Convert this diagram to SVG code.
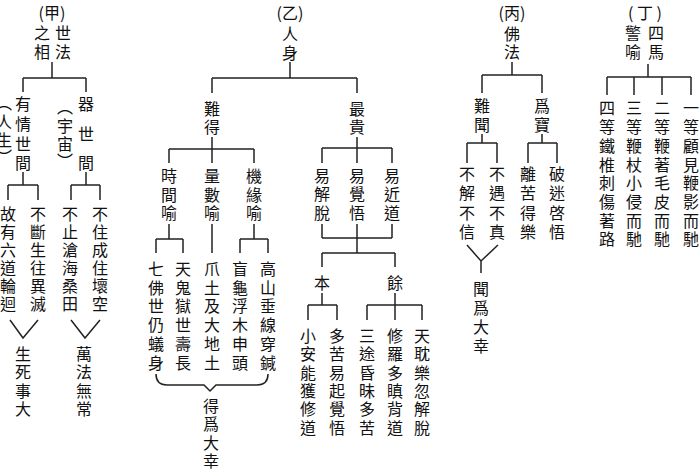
<svg xmlns="http://www.w3.org/2000/svg" width="700" height="470" viewBox="0 0 700 470">
<style>
text{font-family:"Noto Sans CJK TC","Noto Sans CJK SC",sans-serif;font-size:16px;fill:#111;text-anchor:middle;dominant-baseline:central}
.v{writing-mode:vertical-rl;text-anchor:start}
.c{fill:none;stroke:#222;stroke-width:1.5}
</style>
<rect width="700" height="470" fill="#fff"/>
<g id="connectors" class="c">
<path d="M52 62V78M23 78H86M23 78V92M86 78V92"/>
<path d="M23 172V185M8 185H38M8 185V200M38 185V200"/>
<path d="M86 172V185M71 185H100M71 185V200M100 185V200"/>
<path d="M10 320L23 338L38 320M71 320L85 338L100 320"/>
<path d="M290 62V78M212 78H357M212 78V93M357 78V93"/>
<path d="M212 137V149M169 149H254M169 149V163M212 149V163M254 149V163"/>
<path d="M169 224V239M156 239H183M156 239V253M183 239V253M212 224V253M254 224V239M240 239H268M240 239V253M268 239V253"/>
<path d="M156 374Q156 385 167 385H204L210 391L216 385H257Q268 385 268 374"/>
<path d="M357 137V148M322 148H392M322 148V163M357 148V163M392 148V163"/>
<path d="M322 224V238M392 224V238M322 238H392M357 224V253M322 253H395M322 253V267M395 253V267"/>
<path d="M322 293V305M308 305H337M308 305V320M337 305V320M395 293V305M367 305H422M367 305V320M395 305V320M422 305V320"/>
<path d="M512 62V75M482 75H542M482 75V93M542 75V93"/>
<path d="M482 134V143M467 143H497M467 143V163M497 143V163M542 134V143M528 143H557M528 143V163M557 143V163"/>
<path d="M467 245L481 261L498 245M481 261V273"/>
<path d="M648 64V77M607 77H691M607 77V95M634 77V95M662 77V95M691 77V95"/>
</g>
<g id="jia">
<text x="52" y="12">(甲)</text>
<text><tspan x="63" y="32">世</tspan><tspan x="63" y="51">法</tspan><tspan x="42" y="32">之</tspan><tspan x="42" y="51">相</tspan></text>
</g>
<g id="youqing"><text><tspan x="23" y="103">有</tspan><tspan x="23" y="123">情</tspan><tspan x="23" y="143">世</tspan><tspan x="23" y="162">間</tspan><tspan x="4" y="121">人</tspan><tspan x="4" y="139">生</tspan></text><text class="v" x="4" y="95">（</text><text class="v" x="4" y="149">）</text></g>
<g id="qishi"><text><tspan x="86" y="103">器</tspan><tspan x="86" y="133">世</tspan><tspan x="86" y="162">間</tspan><tspan x="65" y="125">宇</tspan><tspan x="65" y="143">宙</tspan></text><text class="v" x="65" y="99">（</text><text class="v" x="65" y="153">）</text></g>
<g id="guyou"><text><tspan x="8" y="213">故</tspan><tspan x="8" y="231">有</tspan><tspan x="8" y="249">六</tspan><tspan x="8" y="267">道</tspan><tspan x="8" y="285">輪</tspan><tspan x="8" y="303">迴</tspan></text></g>
<g id="buduan"><text><tspan x="38" y="213">不</tspan><tspan x="38" y="231">斷</tspan><tspan x="38" y="249">生</tspan><tspan x="38" y="267">往</tspan><tspan x="38" y="285">異</tspan><tspan x="38" y="303">滅</tspan></text></g>
<g id="buzhi"><text><tspan x="70" y="213">不</tspan><tspan x="70" y="231">止</tspan><tspan x="70" y="249">滄</tspan><tspan x="70" y="267">海</tspan><tspan x="70" y="285">桑</tspan><tspan x="70" y="303">田</tspan></text></g>
<g id="buzhu"><text><tspan x="100" y="213">不</tspan><tspan x="100" y="231">住</tspan><tspan x="100" y="249">成</tspan><tspan x="100" y="267">住</tspan><tspan x="100" y="285">壞</tspan><tspan x="100" y="303">空</tspan></text></g>
<g id="shengsi"><text><tspan x="23" y="353">生</tspan><tspan x="23" y="371">死</tspan><tspan x="23" y="390">事</tspan><tspan x="23" y="408">大</tspan></text></g>
<g id="wanfa"><text><tspan x="84" y="353">萬</tspan><tspan x="84" y="371">法</tspan><tspan x="84" y="390">無</tspan><tspan x="84" y="408">常</tspan></text></g>
<g id="yi">
<text x="290" y="12">(乙)</text>
<text><tspan x="290" y="33">人</tspan><tspan x="290" y="52">身</tspan></text>
</g>
<g id="nande"><text><tspan x="212" y="108">難</tspan><tspan x="212" y="126">得</tspan></text></g>
<g id="shijian"><text><tspan x="169" y="175">時</tspan><tspan x="169" y="194">間</tspan><tspan x="169" y="212">喻</tspan></text></g>
<g id="liangshu"><text><tspan x="212" y="175">量</tspan><tspan x="212" y="194">數</tspan><tspan x="212" y="212">喻</tspan></text></g>
<g id="jiyuan"><text><tspan x="254" y="175">機</tspan><tspan x="254" y="194">緣</tspan><tspan x="254" y="212">喻</tspan></text></g>
<g id="qifo"><text><tspan x="156" y="268">七</tspan><tspan x="156" y="287">佛</tspan><tspan x="156" y="305">世</tspan><tspan x="156" y="324">仍</tspan><tspan x="156" y="343">蟻</tspan><tspan x="156" y="362">身</tspan></text></g>
<g id="tiangui"><text><tspan x="183" y="268">天</tspan><tspan x="183" y="287">鬼</tspan><tspan x="183" y="305">獄</tspan><tspan x="183" y="324">世</tspan><tspan x="183" y="343">壽</tspan><tspan x="183" y="362">長</tspan></text></g>
<g id="zhuatu"><text><tspan x="212" y="268">爪</tspan><tspan x="212" y="287">土</tspan><tspan x="212" y="305">及</tspan><tspan x="212" y="324">大</tspan><tspan x="212" y="343">地</tspan><tspan x="212" y="362">土</tspan></text></g>
<g id="manggui"><text><tspan x="240" y="268">盲</tspan><tspan x="240" y="287">龜</tspan><tspan x="240" y="305">浮</tspan><tspan x="240" y="324">木</tspan><tspan x="240" y="343">申</tspan><tspan x="240" y="362">頭</tspan></text></g>
<g id="gaoshan"><text><tspan x="268" y="268">高</tspan><tspan x="268" y="287">山</tspan><tspan x="268" y="305">垂</tspan><tspan x="268" y="324">線</tspan><tspan x="268" y="343">穿</tspan><tspan x="268" y="362">鍼</tspan></text></g>
<g id="dewei"><text><tspan x="211" y="405">得</tspan><tspan x="211" y="423">爲</tspan><tspan x="211" y="442">大</tspan><tspan x="211" y="460">幸</tspan></text></g>
<g id="zuigui"><text><tspan x="357" y="108">最</tspan><tspan x="357" y="126">貴</tspan></text></g>
<g id="yijie"><text><tspan x="322" y="175">易</tspan><tspan x="322" y="193">解</tspan><tspan x="322" y="212">脫</tspan></text></g>
<g id="yijue"><text><tspan x="357" y="175">易</tspan><tspan x="357" y="193">覺</tspan><tspan x="357" y="212">悟</tspan></text></g>
<g id="yijin"><text><tspan x="392" y="175">易</tspan><tspan x="392" y="193">近</tspan><tspan x="392" y="212">道</tspan></text></g>
<g id="ben"><text x="322" y="282">本</text></g>
<g id="yu"><text x="395" y="282">餘</text></g>
<g id="xiaoan"><text><tspan x="308" y="335">小</tspan><tspan x="308" y="353">安</tspan><tspan x="308" y="372">能</tspan><tspan x="308" y="390">獲</tspan><tspan x="308" y="408">修</tspan><tspan x="308" y="427">道</tspan></text></g>
<g id="duoku"><text><tspan x="337" y="335">多</tspan><tspan x="337" y="353">苦</tspan><tspan x="337" y="372">易</tspan><tspan x="337" y="390">起</tspan><tspan x="337" y="408">覺</tspan><tspan x="337" y="427">悟</tspan></text></g>
<g id="santu"><text><tspan x="367" y="335">三</tspan><tspan x="367" y="353">途</tspan><tspan x="367" y="372">昏</tspan><tspan x="367" y="390">昧</tspan><tspan x="367" y="408">多</tspan><tspan x="367" y="427">苦</tspan></text></g>
<g id="xiuluo"><text><tspan x="395" y="335">修</tspan><tspan x="395" y="353">羅</tspan><tspan x="395" y="372">多</tspan><tspan x="395" y="390">瞋</tspan><tspan x="395" y="408">背</tspan><tspan x="395" y="427">道</tspan></text></g>
<g id="tiandan"><text><tspan x="422" y="335">天</tspan><tspan x="422" y="353">耽</tspan><tspan x="422" y="372">樂</tspan><tspan x="422" y="390">忽</tspan><tspan x="422" y="408">解</tspan><tspan x="422" y="427">脫</tspan></text></g>
<g id="bing">
<text x="512" y="12">(丙)</text>
<text><tspan x="512" y="33">佛</tspan><tspan x="512" y="51">法</tspan></text>
</g>
<g id="nanwen"><text><tspan x="482" y="105">難</tspan><tspan x="482" y="124">聞</tspan></text></g>
<g id="weibao"><text><tspan x="542" y="105">爲</tspan><tspan x="542" y="124">寶</tspan></text></g>
<g id="bujie"><text><tspan x="467" y="173">不</tspan><tspan x="467" y="192">解</tspan><tspan x="467" y="212">不</tspan><tspan x="467" y="231">信</tspan></text></g>
<g id="buyu"><text><tspan x="497" y="173">不</tspan><tspan x="497" y="192">遇</tspan><tspan x="497" y="212">不</tspan><tspan x="497" y="231">真</tspan></text></g>
<g id="liku"><text><tspan x="528" y="173">離</tspan><tspan x="528" y="192">苦</tspan><tspan x="528" y="212">得</tspan><tspan x="528" y="231">樂</tspan></text></g>
<g id="pomi"><text><tspan x="557" y="173">破</tspan><tspan x="557" y="192">迷</tspan><tspan x="557" y="212">啓</tspan><tspan x="557" y="231">悟</tspan></text></g>
<g id="wenwei"><text><tspan x="481" y="288">聞</tspan><tspan x="481" y="307">爲</tspan><tspan x="481" y="326">大</tspan><tspan x="481" y="345">幸</tspan></text></g>
<g id="ding">
<text x="645" y="12">( 丁 )</text>
<text><tspan x="656" y="32">四</tspan><tspan x="656" y="51">馬</tspan><tspan x="633" y="32">警</tspan><tspan x="633" y="51">喻</tspan></text>
</g>
<g id="sideng"><text><tspan x="607" y="107">四</tspan><tspan x="607" y="126">等</tspan><tspan x="607" y="145">鐵</tspan><tspan x="607" y="164">椎</tspan><tspan x="607" y="182">刺</tspan><tspan x="607" y="201">傷</tspan><tspan x="607" y="220">著</tspan><tspan x="607" y="238">路</tspan></text></g>
<g id="sandeng"><text><tspan x="634" y="107">三</tspan><tspan x="634" y="126">等</tspan><tspan x="634" y="145">鞭</tspan><tspan x="634" y="164">杖</tspan><tspan x="634" y="182">小</tspan><tspan x="634" y="201">侵</tspan><tspan x="634" y="220">而</tspan><tspan x="634" y="238">馳</tspan></text></g>
<g id="erdeng"><text><tspan x="662" y="107">二</tspan><tspan x="662" y="126">等</tspan><tspan x="662" y="145">鞭</tspan><tspan x="662" y="164">著</tspan><tspan x="662" y="182">毛</tspan><tspan x="662" y="201">皮</tspan><tspan x="662" y="220">而</tspan><tspan x="662" y="238">馳</tspan></text></g>
<g id="yideng"><text><tspan x="691" y="107">一</tspan><tspan x="691" y="126">等</tspan><tspan x="691" y="145">顧</tspan><tspan x="691" y="164">見</tspan><tspan x="691" y="182">鞭</tspan><tspan x="691" y="201">影</tspan><tspan x="691" y="220">而</tspan><tspan x="691" y="238">馳</tspan></text></g>
</svg>
